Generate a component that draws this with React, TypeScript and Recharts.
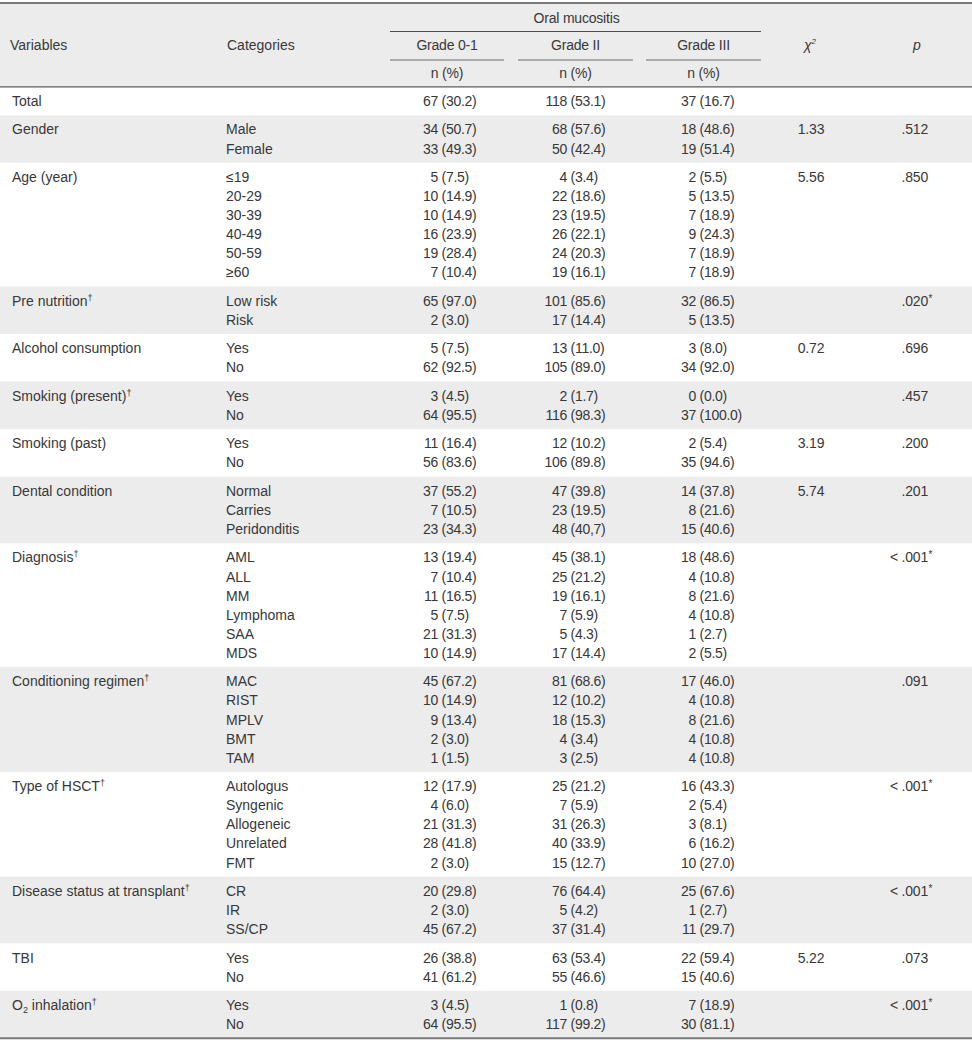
import { ComposedChart, ReferenceArea, ReferenceLine, Scatter, XAxis, YAxis } from "recharts";

const VARIABLES = [
  "Total",
  "Gender",
  "Age (year)",
  "Pre nutrition†",
  "Alcohol consumption",
  "Smoking (present)†",
  "Smoking (past)",
  "Dental condition",
  "Diagnosis†",
  "Conditioning regimen†",
  "Type of HSCT†",
  "Disease status at transplant†",
  "TBI",
  "O2 inhalation†",
];

const CATEGORIES = [
  [""],
  ["Male", "Female"],
  ["≤19", "20-29", "30-39", "40-49", "50-59", "≥60"],
  ["Low risk", "Risk"],
  ["Yes", "No"],
  ["Yes", "No"],
  ["Yes", "No"],
  ["Normal", "Carries", "Peridonditis"],
  ["AML", "ALL", "MM", "Lymphoma", "SAA", "MDS"],
  ["MAC", "RIST", "MPLV", "BMT", "TAM"],
  ["Autologus", "Syngenic", "Allogeneic", "Unrelated", "FMT"],
  ["CR", "IR", "SS/CP"],
  ["Yes", "No"],
  ["Yes", "No"],
];

const GRADE_0_1 = [
  ["67 (30.2)"],
  ["34 (50.7)", "33 (49.3)"],
  ["5 (7.5)", "10 (14.9)", "10 (14.9)", "16 (23.9)", "19 (28.4)", "7 (10.4)"],
  ["65 (97.0)", "2 (3.0)"],
  ["5 (7.5)", "62 (92.5)"],
  ["3 (4.5)", "64 (95.5)"],
  ["11 (16.4)", "56 (83.6)"],
  ["37 (55.2)", "7 (10.5)", "23 (34.3)"],
  ["13 (19.4)", "7 (10.4)", "11 (16.5)", "5 (7.5)", "21 (31.3)", "10 (14.9)"],
  ["45 (67.2)", "10 (14.9)", "9 (13.4)", "2 (3.0)", "1 (1.5)"],
  ["12 (17.9)", "4 (6.0)", "21 (31.3)", "28 (41.8)", "2 (3.0)"],
  ["20 (29.8)", "2 (3.0)", "45 (67.2)"],
  ["26 (38.8)", "41 (61.2)"],
  ["3 (4.5)", "64 (95.5)"],
];

const GRADE_II = [
  ["118 (53.1)"],
  ["68 (57.6)", "50 (42.4)"],
  ["4 (3.4)", "22 (18.6)", "23 (19.5)", "26 (22.1)", "24 (20.3)", "19 (16.1)"],
  ["101 (85.6)", "17 (14.4)"],
  ["13 (11.0)", "105 (89.0)"],
  ["2 (1.7)", "116 (98.3)"],
  ["12 (10.2)", "106 (89.8)"],
  ["47 (39.8)", "23 (19.5)", "48 (40,7)"],
  ["45 (38.1)", "25 (21.2)", "19 (16.1)", "7 (5.9)", "5 (4.3)", "17 (14.4)"],
  ["81 (68.6)", "12 (10.2)", "18 (15.3)", "4 (3.4)", "3 (2.5)"],
  ["25 (21.2)", "7 (5.9)", "31 (26.3)", "40 (33.9)", "15 (12.7)"],
  ["76 (64.4)", "5 (4.2)", "37 (31.4)"],
  ["63 (53.4)", "55 (46.6)"],
  ["1 (0.8)", "117 (99.2)"],
];

const GRADE_III = [
  ["37 (16.7)"],
  ["18 (48.6)", "19 (51.4)"],
  ["2 (5.5)", "5 (13.5)", "7 (18.9)", "9 (24.3)", "7 (18.9)", "7 (18.9)"],
  ["32 (86.5)", "5 (13.5)"],
  ["3 (8.0)", "34 (92.0)"],
  ["0 (0.0)", "37 (100.0)"],
  ["2 (5.4)", "35 (94.6)"],
  ["14 (37.8)", "8 (21.6)", "15 (40.6)"],
  ["18 (48.6)", "4 (10.8)", "8 (21.6)", "4 (10.8)", "1 (2.7)", "2 (5.5)"],
  ["17 (46.0)", "4 (10.8)", "8 (21.6)", "4 (10.8)", "4 (10.8)"],
  ["16 (43.3)", "2 (5.4)", "3 (8.1)", "6 (16.2)", "10 (27.0)"],
  ["25 (67.6)", "1 (2.7)", "11 (29.7)"],
  ["22 (59.4)", "15 (40.6)"],
  ["7 (18.9)", "30 (81.1)"],
];

const CHI_SQUARE = ["", "1.33", "5.56", "", "0.72", "", "3.19", "5.74", "", "", "", "", "5.22", ""];
const P_VALUES = ["", ".512", ".850", ".020*", ".696", ".457", ".200", ".201", "<.001*", ".091", "<.001*", "<.001*", ".073", "<.001*"];
const GRADES = ["Grade 0-1", "Grade II", "Grade III"];

const W = 972;
const H = 1044;
const FONT = "'Liberation Sans', Arial, sans-serif";
const TEXT = "#383838";
const BAND = "#ececec";
const RULE = "#7a7a7a";

// layout (table units = page pixels)
const FIRST_ROW = 101;
const ROW_H = 19.1;
const GROUP_GAP = 9.3;
const X_VAR = 12;
const X_CAT = 226;
const X_COUNT = [438, 567, 696];
const GRADE_SPAN = [
  [390, 504],
  [518, 633],
  [646, 761],
];
const X_CHI = 811;
const X_P = 928;

type Kind = "left" | "center" | "count" | "p" | "var" | "chiHead" | "pHead";
type Cell = { x: number; y: number; text: string; kind: Kind };

const rowY = (line: number, group: number) => FIRST_ROW + line * ROW_H + group * GROUP_GAP;

const cells: Cell[] = [
  { x: (GRADE_SPAN[0][0] + GRADE_SPAN[2][1]) / 2 + 1, y: 18, text: "Oral mucositis", kind: "center" },
  { x: 10, y: 45, text: "Variables", kind: "left" },
  { x: 227, y: 45, text: "Categories", kind: "left" },
  { x: X_CHI - 1, y: 45, text: "χ", kind: "chiHead" },
  { x: 917, y: 45, text: "p", kind: "pHead" },
];
GRADES.forEach((g, k) => {
  const mid = (GRADE_SPAN[k][0] + GRADE_SPAN[k][1]) / 2;
  cells.push({ x: mid, y: 45, text: g, kind: "center" });
  cells.push({ x: mid, y: 73, text: "n (%)", kind: "center" });
});

const bands: { y1: number; y2: number }[] = [];
let line = 0;
VARIABLES.forEach((v, g) => {
  const rows = CATEGORIES[g];
  cells.push({ x: X_VAR, y: rowY(line, g), text: v, kind: "var" });
  rows.forEach((c, i) => {
    const y = rowY(line + i, g);
    if (c) cells.push({ x: X_CAT, y, text: c, kind: "left" });
    [GRADE_0_1, GRADE_II, GRADE_III].forEach((col, k) => {
      cells.push({ x: X_COUNT[k], y, text: col[g][i], kind: "count" });
    });
  });
  if (CHI_SQUARE[g]) cells.push({ x: X_CHI, y: rowY(line, g), text: CHI_SQUARE[g], kind: "center" });
  if (P_VALUES[g]) cells.push({ x: X_P, y: rowY(line, g), text: P_VALUES[g], kind: "p" });
  bands.push({
    y1: rowY(line, g) - ROW_H / 2 - GROUP_GAP / 2,
    y2: rowY(line + rows.length - 1, g) + ROW_H / 2 + GROUP_GAP / 2,
  });
  line += rows.length;
});

const HEAD_BOTTOM = bands[0].y1;
const TABLE_BOTTOM = bands[bands.length - 1].y2;

function richLabel(text: string) {
  const dagger = text.endsWith("†");
  const body = dagger ? text.slice(0, -1) : text;
  const parts = [];
  if (body.startsWith("O2")) {
    parts.push(<tspan key="o">O</tspan>);
    parts.push(<tspan key="s" fontSize={9} dy={3}>2</tspan>);
    parts.push(<tspan key="r" dy={-3}>{body.slice(2)}</tspan>);
  } else {
    parts.push(<tspan key="b">{body}</tspan>);
  }
  if (dagger) parts.push(<tspan key="d" fontSize={9} dy={-5}>†</tspan>);
  return parts;
}

const renderCell = (props: any) => {
  const { cx, cy } = props;
  const d: Cell = props.payload ?? props;
  const base = { y: cy + 5, fill: TEXT, fontFamily: FONT, fontSize: 14 };
  switch (d.kind) {
    case "left":
      return <text {...base} x={cx}>{d.text}</text>;
    case "var":
      return <text {...base} x={cx}>{richLabel(d.text)}</text>;
    case "center":
      return <text {...base} x={cx} textAnchor="middle" letterSpacing={-0.2}>{d.text}</text>;
    case "count": {
      const cut = d.text.indexOf(" (");
      return (
        <g letterSpacing={-0.3}>
          <text {...base} x={cx} textAnchor="end">{d.text.slice(0, cut)}</text>
          <text {...base} x={cx + 3.6}>{d.text.slice(cut + 1)}</text>
        </g>
      );
    }
    case "p": {
      const star = d.text.endsWith("*");
      const val = star ? d.text.slice(0, -1) : d.text;
      return (
        <g letterSpacing={-0.2}>
          <text {...base} x={cx} textAnchor="end">{val.replace("<", "< ")}</text>
          {star && <text {...base} x={cx} dx={0.5} fontSize={10} y={cy + 1}>*</text>}
        </g>
      );
    }
    case "chiHead":
      return (
        <text {...base} x={cx} textAnchor="middle" fontStyle="italic">
          {d.text}
          <tspan fontSize={8} dy={-6}>2</tspan>
        </text>
      );
    case "pHead":
      return <text {...base} x={cx} textAnchor="middle" fontStyle="italic">{d.text}</text>;
    default:
      return <g />;
  }
};

export default function App() {
  return (
    <div style={{ width: W, height: H, background: "#fff" }}>
      <style>{"body{margin:0}"}</style>
      <ComposedChart width={W} height={H} margin={{ top: 0, right: 0, bottom: 0, left: 0 }}>
        <XAxis type="number" dataKey="x" domain={[0, W]} allowDataOverflow hide />
        <YAxis type="number" dataKey="y" domain={[0, H]} allowDataOverflow reversed hide />
        <ReferenceArea x1={0} x2={W} y1={3} y2={HEAD_BOTTOM} fill={BAND} fillOpacity={1} stroke="none" />
        {bands.map((b, i) =>
          i % 2 === 1 ? (
            <ReferenceArea key={i} x1={0} x2={W} y1={b.y1} y2={b.y2} fill={BAND} fillOpacity={1} stroke="none" />
          ) : null
        )}
        <ReferenceLine y={3} stroke={RULE} strokeWidth={2} />
        <ReferenceLine y={HEAD_BOTTOM} stroke="#5a5a5a" strokeWidth={1.2} />
        <ReferenceLine y={TABLE_BOTTOM} stroke={RULE} strokeWidth={2} />
        <ReferenceLine
          segment={[
            { x: GRADE_SPAN[0][0], y: 31.5 },
            { x: GRADE_SPAN[2][1], y: 31.5 },
          ]}
          stroke="#4a4a4a"
          strokeWidth={1}
        />
        {GRADE_SPAN.map((s, k) => (
          <ReferenceLine
            key={k}
            segment={[
              { x: s[0], y: 60 },
              { x: s[1], y: 60 },
            ]}
            stroke="#6a6a6a"
            strokeWidth={1.2}
          />
        ))}
        <Scatter data={cells} dataKey="y" shape={renderCell} isAnimationActive={false} />
      </ComposedChart>
    </div>
  );
}
